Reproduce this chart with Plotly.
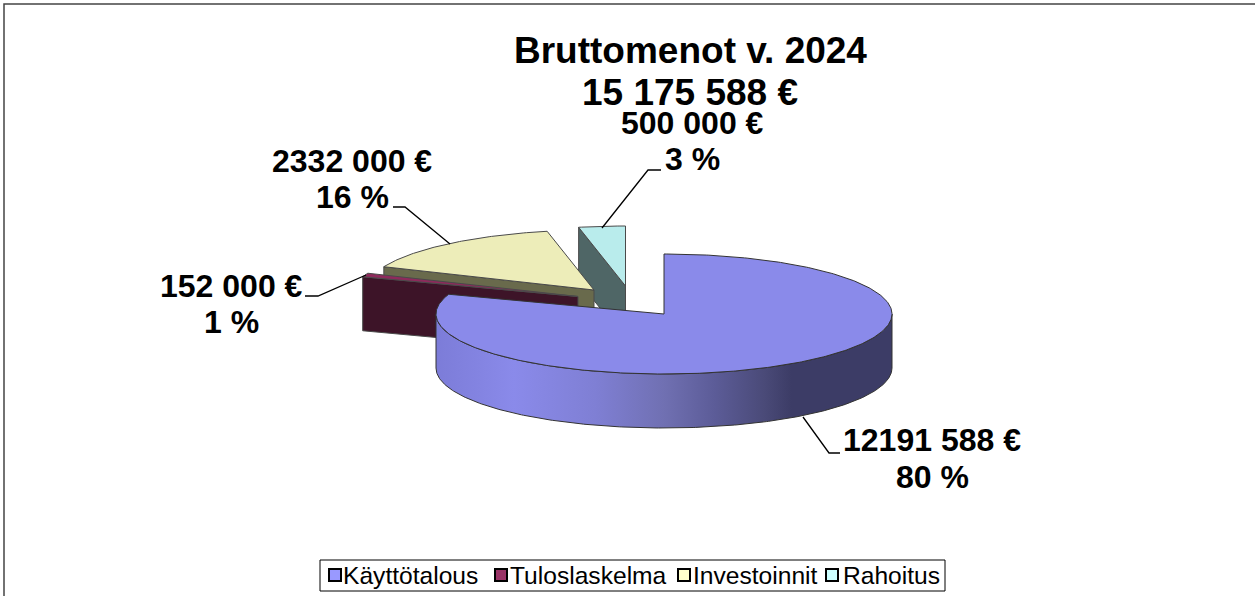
import math
import plotly.graph_objects as go

categories = ["Käyttötalous", "Tuloslaskelma", "Investoinnit", "Rahoitus"]
values = [12191588, 152000, 2332000, 500000]
title_lines = ["Bruttomenot v. 2024", "15 175 588 €"]
value_labels = ["12191 588 €", "152 000 €", "2332 000 €", "500 000 €"]
percent_labels = ["80 %", "1 %", "16 %", "3 %"]
top_colors = ["#8a8aea", "#8e2a5c", "#ededb9", "#b9ecec"]
side_colors = ["#3c3c66", "#3d1428", "#696a4c", "#4f6666"]
legend_colors = ["#9999ff", "#993366", "#ffffcc", "#ccffff"]

RX, RY, DEPTH = 228, 60, 54
FONT = "Liberation Sans, Arial, sans-serif"
apex = [(664, 314), (578, 296.5), (594, 290), (625.5, 286)]

total = sum(values)
spans = []
acc = 0
for v in values:
    spans.append((acc / total * 360, (acc + v) / total * 360))
    acc += v


def pt(c, a, dy=0):
    r = math.radians(a)
    return c[0] + RX * math.sin(r), c[1] - RY * math.cos(r) + dy


def arc(c, a0, a1, dy=0):
    n = max(2, int(abs(a1 - a0) * 1.5))
    return [pt(c, a0 + (a1 - a0) * i / n, dy) for i in range(n + 1)]


def poly(points, color, name, line="#4a4a4a", **kw):
    xs = [p[0] for p in points] + [points[0][0]]
    ys = [p[1] for p in points] + [points[0][1]]
    return go.Scatter(x=xs, y=ys, mode="lines", fill="toself", fillcolor=color, name=name,
                      line=dict(color=line, width=1), hoverinfo="skip", showlegend=False, **kw)


fig = go.Figure()
# painter's order: back slices first, the big slice last
for i in [3, 2, 1]:
    a0, a1 = spans[i]
    c = apex[i]
    corner = pt(c, a0)
    fig.add_trace(poly([corner, c, (c[0], c[1] + DEPTH), (corner[0], corner[1] + DEPTH)],
                       side_colors[i], categories[i] + " side"))
    fig.add_trace(poly([c] + arc(c, a0, a1), top_colors[i], categories[i]))

c = apex[0]
wall = arc(c, 90, 270) + arc(c, 270, 90, DEPTH)
fig.add_trace(go.Scatter(
    x=[p[0] for p in wall] + [wall[0][0]], y=[p[1] for p in wall] + [wall[0][1]],
    mode="lines", fill="toself", name=categories[0] + " side", hoverinfo="skip", showlegend=False,
    line=dict(color="#333333", width=1),
    fillcolor="rgba(0,0,0,0)",
    fillgradient=dict(type="horizontal", start=c[0] - RX, stop=c[0] + RX,
                      colorscale=[[0, "#7c7cd8"], [0.1, "#8484e2"], [0.17, "#8a8aea"],
                                  [0.35, "#7f7fd4"], [0.5, "#7070b2"], [0.61, "#5c5c98"],
                                  [0.72, "#4a4a78"], [0.78, "#3c3c66"], [1, "#3c3c66"]]),
))
a0, a1 = spans[0]
fig.add_trace(poly([c] + arc(c, a0, a1), top_colors[0], categories[0], line="#333333"))

shapes = [
    dict(type="rect", x0=4, y0=4, x1=1300, y1=700, line=dict(color="#444444", width=1.5)),
]
for path in [[(803, 417), (829, 453), (840, 453)],
             [(305, 296), (318, 296), (366, 275)],
             [(393, 207), (405, 207), (450, 244)],
             [(602, 228), (648, 170), (661, 170)]]:
    d = "M" + " L".join(f"{x},{y}" for x, y in path)
    shapes.append(dict(type="path", path=d, line=dict(color="black", width=1.3)))

annotations = []


def text(s, x, y, size, bold=True):
    annotations.append(dict(x=x, y=y, text=f"<b>{s}</b>" if bold else s, showarrow=False,
                            font=dict(family=FONT, size=size, color="black"),
                            xanchor="center", yanchor="middle"))


text(title_lines[0], 690, 50, 37)
text(title_lines[1], 690, 92, 37)
label_pos = [(932, 440, 477), (231, 286, 322), (352, 161, 197), (692, 123, 159)]
for (x, y1, y2), v, p in zip(label_pos, value_labels, percent_labels):
    text(v, x, y1, 32)
    text(p, x, y2, 32)

# boxed legend
shapes.append(dict(type="rect", x0=320, y0=560, x1=945, y1=591,
                   line=dict(color="black", width=1), fillcolor="white"))
for name, color, sx, tx in zip(categories, legend_colors, [329, 495, 678, 826], [343, 510, 693, 843]):
    shapes.append(dict(type="rect", x0=sx, y0=569, x1=sx + 12, y1=581,
                       line=dict(color="black", width=2), fillcolor=color))
    annotations.append(dict(x=tx, y=575, text=name, showarrow=False, xanchor="left", yanchor="middle",
                            xshift=-2, font=dict(family=FONT, size=24.6, color="black")))

fig.update_layout(
    width=1255, height=596, margin=dict(l=0, r=0, t=0, b=0),
    paper_bgcolor="white", plot_bgcolor="white", showlegend=False,
    shapes=shapes, annotations=annotations,
    xaxis=dict(range=[0, 1255], visible=False, fixedrange=True),
    yaxis=dict(range=[596, 0], visible=False, fixedrange=True),
)
fig.write_html("out.html", config=dict(displayModeBar=False),
               post_script="document.body.style.margin='0';")
